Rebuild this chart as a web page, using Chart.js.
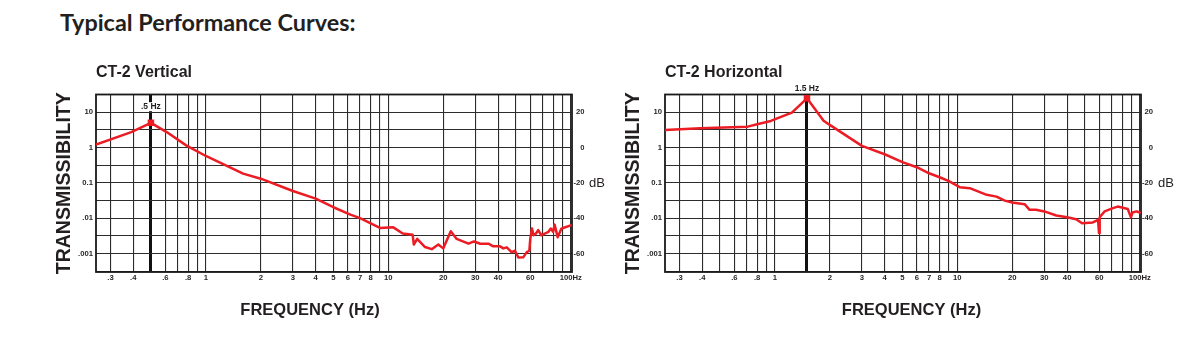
<!DOCTYPE html>
<html><head><meta charset="utf-8">
<script src="https://cdn.jsdelivr.net/npm/chart.js@4/dist/chart.umd.min.js"></script>
<style>
html,body{margin:0;padding:0;background:#fff;width:1203px;height:357px;overflow:hidden;}
#pageTitle{position:absolute;left:60px;top:7px;font:700 23.4px Lato, 'Open Sans', sans-serif;color:#231f20;white-space:nowrap;line-height:30px;}
.wrap{position:absolute;top:0;height:357px;}
#w1{left:0;width:620px;}
#w2{left:620px;width:583px;}
canvas{display:block;}
</style></head><body>
<div id="pageTitle">Typical Performance Curves:</div>
<div class="wrap" id="w1"><canvas id="c1" width="620" height="357"></canvas></div>
<div class="wrap" id="w2"><canvas id="c2" width="583" height="357"></canvas></div>
<script>
const FONT = "'Liberation Sans', Arial, Helvetica, sans-serif";
const TXT = '#231f20';
const RED = '#ec1c24';
const GRID = '#2c2c2c';

// CT-2 Vertical curve
const vertFreq = [0.25, 0.39, 0.5, 0.61, 0.78, 1.0, 1.6, 2, 3, 4, 5, 6.2, 7, 9, 10.6, 12, 13.6, 13.8, 14.4, 15.9, 17.3, 18.8, 20, 22, 23.7, 27.5, 29.5, 31.9, 35.4, 37.6, 41, 42.7, 44.6, 47.4, 49.5, 51.6, 55, 57.4, 59.3, 60, 61.3, 62.6, 64.5, 66.3, 69, 72.5, 75.3, 77.7, 80, 81.6, 84.8, 88.9, 90.8, 100];
const vertTrans = [1.22, 2.76, 5.04, 2.76, 1.16, 0.58, 0.183, 0.132, 0.059, 0.036, 0.0205, 0.0126, 0.0101, 0.0053, 0.0056, 0.0037, 0.0034, 0.0018, 0.0026, 0.00153, 0.00133, 0.0018, 0.0014, 0.0043, 0.0026, 0.0019, 0.0022, 0.0019, 0.0019, 0.0016, 0.0016, 0.0014, 0.0015, 0.0011, 0.0012, 0.00077, 0.00079, 0.0011, 0.0012, 0.0026, 0.0051, 0.0033, 0.0037, 0.0046, 0.0033, 0.0037, 0.0041, 0.0051, 0.0041, 0.0066, 0.0029, 0.0051, 0.0053, 0.0063];

// CT-2 Horizontal curve
const horizFreq = [0.25, 0.39, 0.71, 0.8, 0.95, 1.24, 1.5, 1.85, 2, 3, 4, 5, 6, 7, 8, 9, 10.3, 11.7, 14.5, 16.4, 18.2, 20, 23.4, 24.9, 27, 30, 34.9, 40, 44.8, 48.3, 55.3, 59.1, 59.8, 60.3, 64.2, 71.3, 75.7, 86, 89.5, 91.3, 96, 100];
const horizTrans = [3.17, 3.54, 3.93, 4.6, 5.7, 9.8, 25, 5.8, 4.4, 1.12, 0.65, 0.39, 0.279, 0.188, 0.145, 0.112, 0.076, 0.071, 0.046, 0.041, 0.0316, 0.0278, 0.025, 0.0173, 0.0173, 0.0156, 0.012, 0.0107, 0.0094, 0.0072, 0.0076, 0.009, 0.0038, 0.0107, 0.0156, 0.0193, 0.0214, 0.0183, 0.0107, 0.0145, 0.0156, 0.0145];

// Resonance peaks
const peakFreq = [0.5, 1.5];
const peakTrans = [5.04, 25];
const peakLabels = ['.5 Hz', '1.5 Hz'];

// Axes
const xGridValues = [0.3, 0.4, 0.5, 0.6, 0.7, 0.8, 0.9, 1, 2, 3, 4, 5, 6, 7, 8, 9, 10, 20, 30, 40, 50, 60, 70, 80, 90, 100];
const xTickLabels = ['.3', '.4', '', '.6', '', '.8', '', '1', '2', '3', '4', '5', '6', '7', '8', '', '10', '20', '30', '40', '', '60', '', '', '', '100Hz'];
const yGridValues = [0.000316, 0.001, 0.00316, 0.01, 0.0316, 0.1, 0.316, 1, 3.16, 10, 31.6];
const yTickLabels = ['', '.001', '', '.01', '', '0.1', '', '1', '', '10', ''];
const dbTickValues = [0.001, 0.01, 0.1, 1, 10];
const dbTickLabels = ['-60', '-40', '-20', '0', '20'];

const X_MIN = 0.25, X_MAX = 101.6, Y_MIN = 0.0003, Y_MAX = 32;

const framePlugin = {
  id: 'frame',
  beforeDatasetsDraw(chart) {
    const {ctx, chartArea: a} = chart;
    ctx.save();
    ctx.strokeStyle = '#1a1a1a';
    ctx.lineWidth = 1.8;
    ctx.strokeRect(a.left, a.top, a.right - a.left, a.bottom - a.top);
    ctx.restore();
  }
};

const notePlugin = {
  id: 'notes',
  afterDraw(chart, args, opts) {
    const {ctx, chartArea: a} = chart;
    ctx.save();
    const px = chart.scales.x.getPixelForValue(opts.peakF);
    const py = a.top + opts.labelDy;
    ctx.font = 'bold 8.5px ' + FONT;
    ctx.textAlign = 'center';
    ctx.textBaseline = 'middle';
    if (opts.labelBg) {
      const w = ctx.measureText(opts.label).width + 5;
      ctx.fillStyle = '#fff';
      ctx.fillRect(px - w / 2, py - 4.5, w, 9);
    }
    ctx.fillStyle = TXT;
    ctx.fillText(opts.label, px, py);
    ctx.font = '13px ' + FONT;
    ctx.textAlign = 'left';
    ctx.fillText('dB', a.right + 17, chart.scales.y.getPixelForValue(0.1));
    ctx.restore();
  }
};

function makeChart(id, cfg) {
  const xt = xGridValues.map((v, i) => ({value: v, label: xTickLabels[i]}));
  if (!xGridValues.includes(cfg.peakF)) xt.push({value: cfg.peakF, label: ''});
  xt.sort((a, b) => a.value - b.value);
  const tickFont = {family: FONT, size: 7.7, weight: 'bold'};
  return new Chart(document.getElementById(id), {
    type: 'scatter',
    data: {
      datasets: [{
        data: cfg.freq.map((f, i) => ({x: f, y: cfg.trans[i]})),
        showLine: true, borderColor: RED, borderWidth: 2.5, pointRadius: 0, tension: 0,
        borderJoinStyle: 'round', borderCapStyle: 'round'
      }, {
        data: [{x: cfg.peakF, y: cfg.peakT}],
        showLine: false, pointStyle: 'rect', pointRadius: 4.6, backgroundColor: RED, borderWidth: 0
      }]
    },
    options: {
      responsive: false, animation: false, events: [],
      layout: {padding: 0},
      scales: {
        x: {
          type: 'logarithmic', position: 'bottom', min: X_MIN, max: X_MAX, bounds: 'data',
          afterBuildTicks: s => { s.ticks = xt.map(t => ({value: t.value})); },
          afterFit: s => { s.height = 24.1; },
          ticks: {autoSkip: false, maxRotation: 0, minRotation: 0, padding: 1.2, font: tickFont, color: TXT,
            callback: (v, i) => xt[i] ? xt[i].label : ''},
          grid: {drawTicks: false, color: ctx => (ctx.tick && ctx.tick.value === cfg.peakF) ? '#111' : GRID,
            lineWidth: ctx => (ctx.tick && ctx.tick.value === cfg.peakF) ? 3 : 1.1},
          border: {display: false}
        },
        y: {
          type: 'logarithmic', position: 'left', min: Y_MIN, max: Y_MAX, bounds: 'data',
          afterBuildTicks: s => { s.ticks = yGridValues.map(v => ({value: v})); },
          afterFit: s => { s.width = cfg.yWidth; },
          ticks: {autoSkip: false, padding: 3, font: tickFont, color: TXT,
            callback: (v, i) => yTickLabels[i]},
          grid: {drawTicks: false, color: GRID, lineWidth: 1.1},
          border: {display: false},
          title: {display: true, text: 'TRANSMISSIBILITY', color: TXT,
            font: {family: FONT, size: 19.5, weight: 'bold'}, padding: {top: cfg.yTitlePad, bottom: 0}}
        },
        db: {
          type: 'logarithmic', position: 'right', min: Y_MIN, max: Y_MAX, bounds: 'data',
          afterBuildTicks: s => { s.ticks = dbTickValues.map(v => ({value: v})); },
          afterFit: s => { s.width = cfg.dbWidth; },
          ticks: {autoSkip: false, padding: 1, crossAlign: 'far', font: tickFont, color: TXT,
            callback: (v, i) => dbTickLabels[i]},
          grid: {display: false, drawTicks: false},
          border: {display: false}
        },
        spacer: {
          type: 'linear', position: 'right', display: true,
          afterFit: s => { s.width = cfg.spacerWidth; },
          ticks: {display: false}, grid: {display: false, drawTicks: false}, border: {display: false}
        }
      },
      plugins: {
        legend: {display: false},
        tooltip: {enabled: false},
        title: {display: true, text: cfg.title, align: 'start', fullSize: false, color: TXT,
          font: {family: FONT, size: 16, weight: 'bold'}, padding: {top: 63.4, bottom: 11.9}},
        subtitle: {display: true, text: 'FREQUENCY (Hz)', position: 'bottom', fullSize: true, align: 'center', color: TXT,
          font: {family: FONT, size: 16.5, weight: 'bold'}, padding: {top: 4, bottom: 37.1}},
        notes: {peakF: cfg.peakF, label: cfg.label, labelDy: cfg.labelDy, labelBg: cfg.labelBg}
      }
    },
    plugins: [framePlugin, notePlugin]
  });
}

makeChart('c1', {title: 'CT-2 Vertical', freq: vertFreq, trans: vertTrans,
  peakF: peakFreq[0], peakT: peakTrans[0], label: peakLabels[0], labelDy: 12.2, labelBg: true,
  yWidth: 96, yTitlePad: 52.8, dbWidth: 12.5, spacerWidth: 35.5});
makeChart('c2', {title: 'CT-2 Horizontal', freq: horizFreq, trans: horizTrans,
  peakF: peakFreq[1], peakT: peakTrans[1], label: peakLabels[1], labelDy: -6.2, labelBg: false,
  yWidth: 45, yTitlePad: 1.5, dbWidth: 12, spacerWidth: 50});
</script>
</body></html>
